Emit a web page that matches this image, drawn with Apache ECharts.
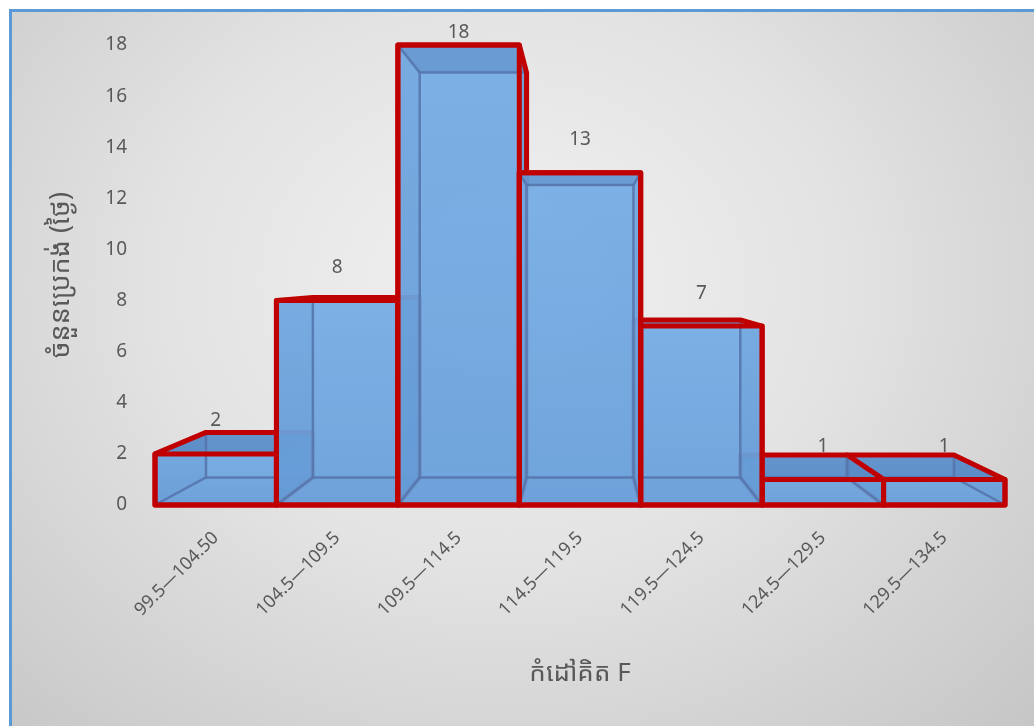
<!DOCTYPE html>
<html>
<head>
<meta charset="utf-8">
<script src="https://cdn.jsdelivr.net/npm/echarts@6/dist/echarts.min.js"></script>
<style>
  html, body { margin: 0; padding: 0; background: #fff; }
  #bg {
    position: absolute; left: 9px; top: 9px; right: 0; bottom: 0;
    border-left: 3px solid #5b9bd5; border-top: 3px solid #5b9bd5;
    background: radial-gradient(ellipse at 48% 38%, #f1f1f1 0%, #e3e3e3 45%, #c6c6c6 100%);
  }
  #chart { position: absolute; left: 0; top: 0; width: 1034px; height: 726px; }
</style>
</head>
<body>
<div id="bg"></div>
<div id="chart"></div>
<script>
// ចន្លោះសីតុណ្ហភាព (ថ្នាក់)
const categories = ['99.5—104.50', '104.5—109.5', '109.5—114.5', '114.5—119.5', '119.5—124.5', '124.5—129.5', '129.5—134.5']
const frequency = [2, 8, 18, 13, 7, 1, 1]
const yMin = 0
const yMax = 18
const yStep = 2

const fontFamily = "'Noto Sans Khmer', 'Noto Sans', 'DejaVu Sans', sans-serif"
const textColor = '#595959'
const depth = 0.12   // ជម្រៅ 3D ឆ្ពោះទៅចំណុចបាត់

// convex hull (monotone chain)
function hull(pts) {
  const p = pts.slice().sort((a, b) => a[0] - b[0] || a[1] - b[1])
  const cross = (o, a, b) => (a[0] - o[0]) * (b[1] - o[1]) - (a[1] - o[1]) * (b[0] - o[0])
  const lower = [], upper = []
  for (const q of p) {
    while (lower.length >= 2 && cross(lower[lower.length - 2], lower[lower.length - 1], q) <= 0) lower.pop()
    lower.push(q)
  }
  for (let i = p.length - 1; i >= 0; i--) {
    const q = p[i]
    while (upper.length >= 2 && cross(upper[upper.length - 2], upper[upper.length - 1], q) <= 0) upper.pop()
    upper.push(q)
  }
  upper.pop(); lower.pop()
  return lower.concat(upper)
}

function renderBox(params, api) {
  const cs = params.coordSys
  const vp = [cs.x + cs.width / 2, cs.y + cs.height / 2]
  const idx = api.value(0)
  const val = api.value(1)
  const top = api.coord([idx, val])
  const base = api.coord([idx, 0])
  const w = api.size([1, 0])[0]
  const x0 = top[0] - w / 2, x1 = top[0] + w / 2
  const back = p => [p[0] + (vp[0] - p[0]) * depth, p[1] + (vp[1] - p[1]) * depth]
  const ftl = [x0, top[1]], ftr = [x1, top[1]], fbr = [x1, base[1]], fbl = [x0, base[1]]
  const btl = back(ftl), btr = back(ftr), bbr = back(fbr), bbl = back(fbl)

  // ប្រអប់ដែលនៅជិតចំណុចបាត់ត្រូវគូរក្រោយ
  const z = (1000 - Math.round(Math.abs(top[0] - vp[0]))) * 10
  const shade = a => 'rgba(35,75,140,' + a + ')'
  const face = (pts, fill, z2) => ({ type: 'polygon', z2: z2, shape: { points: pts }, style: { fill: fill } })
  const edge = (pts, z2) => ({ type: 'polyline', z2: z2, shape: { points: pts },
    style: { stroke: 'rgba(85,115,170,0.85)', lineWidth: 2.5, fill: null } })

  const outline = hull([ftl, ftr, fbr, fbl, btl, btr, bbr, bbl])
  const labelY = Math.max(top[1] - 33, cs.y - 12)

  return {
    type: 'group',
    children: [
      face(outline, {
        type: 'linear', x: 0, y: 0, x2: 0, y2: 1,
        colorStops: [{ offset: 0, color: 'rgba(128,184,238,0.95)' }, { offset: 1, color: 'rgba(112,168,226,0.95)' }]
      }, z),
      face([btl, btr, bbr, bbl], shade(0.08), z + 1),
      face([fbl, fbr, bbr, bbl], shade(0.10), z + 1),
      face([ftl, btl, bbl, fbl], shade(0.14), z + 1),
      face([ftr, btr, bbr, fbr], shade(0.14), z + 1),
      face([ftl, ftr, btr, btl], shade(0.28), z + 1),
      edge([btl, btr, bbr, bbl, btl], z + 2),
      edge([fbl, bbl], z + 2),
      edge([fbr, bbr], z + 2),
      edge([ftl, btl], z + 2),
      edge([ftr, btr], z + 2),
      { type: 'polygon', z2: z + 3, shape: { points: [ftl, ftr, fbr, fbl] },
        style: { fill: null, stroke: '#c00000', lineWidth: 5, lineJoin: 'round' } },
      { type: 'polygon', z2: z + 3, shape: { points: outline },
        style: { fill: null, stroke: '#c00000', lineWidth: 5, lineJoin: 'round' } },
      { type: 'text', z2: z + 4,
        style: { text: String(val), x: top[0], y: labelY, align: 'center', verticalAlign: 'middle',
          fill: textColor, font: '19px ' + fontFamily } }
    ]
  }
}

const chart = echarts.init(document.getElementById('chart'), null, { renderer: 'canvas' })

const option = {
  backgroundColor: 'transparent',
  animation: false,
  grid: {
    left: 155,
    right: 29,
    top: 45,
    bottom: 221
  },
  xAxis: {
    type: 'category',
    data: categories,
    boundaryGap: true,
    name: 'កំដៅគិត F',
    nameLocation: 'middle',
    nameGap: 156,
    nameTextStyle: { color: textColor, fontSize: 26, fontFamily: fontFamily },
    axisLine: { show: false },
    axisTick: { show: false },
    axisLabel: {
      rotate: 45,
      margin: 30,
      color: textColor,
      fontSize: 18,
      fontFamily: fontFamily,
      interval: 0
    }
  },
  yAxis: {
    type: 'value',
    min: yMin,
    max: yMax,
    interval: yStep,
    name: 'ចំនួនប្រេកង់ (ថ្ងៃ)',
    nameLocation: 'middle',
    nameGap: 80,
    nameTextStyle: { color: textColor, fontSize: 27, fontFamily: fontFamily },
    axisLine: { show: false },
    axisTick: { show: false },
    splitLine: { show: false },
    axisLabel: {
      margin: 28,
      color: textColor,
      fontSize: 19,
      fontFamily: fontFamily
    }
  },
  series: [
    {
      type: 'custom',
      clip: false,
      renderItem: renderBox,
      encode: { x: 0, y: 1 },
      data: frequency.map((v, i) => [i, v])
    }
  ]
}

chart.setOption(option)
window.addEventListener('resize', () => {
  chart.resize()
})
</script>
</body>
</html>
